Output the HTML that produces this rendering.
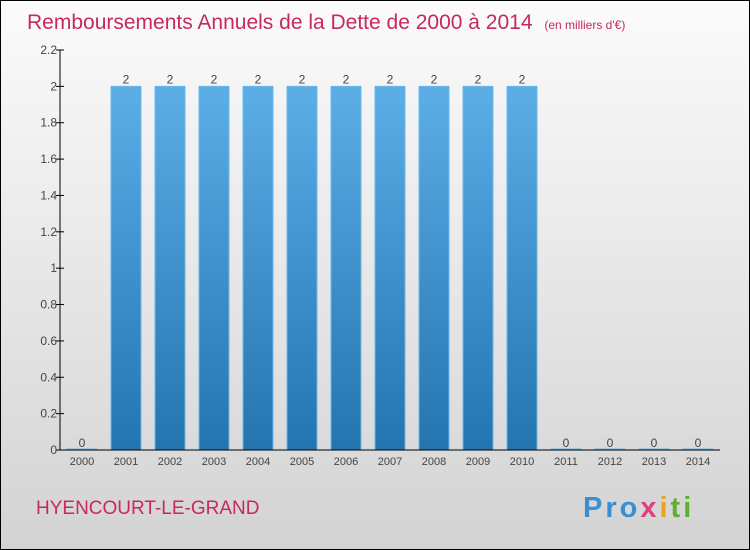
<!DOCTYPE html>
<html><head><meta charset="utf-8"><style>
body{margin:0}
#c{width:750px;height:550px;box-sizing:border-box;border:1px solid #000;background:linear-gradient(#fbfbfb,#d3d3d3);position:relative;overflow:hidden;font-family:"Liberation Sans",sans-serif}
</style></head><body>
<div id="c">
<svg width="750" height="550" style="position:absolute;left:-1px;top:-1px">
<defs><linearGradient id="bg" x1="0" y1="0" x2="0" y2="1"><stop offset="0" stop-color="#5caee7"/><stop offset="1" stop-color="#2474b0"/></linearGradient></defs>
<text x="27" y="29" font-size="21" fill="#c8285e">Remboursements Annuels de la Dette de 2000 à 2014 <tspan font-size="12" dx="6">(en milliers d'€)</tspan></text>
<g id="plot"></g>
<text x="36" y="514" font-size="19" fill="#c8285e">HYENCOURT-LE-GRAND</text>
<text x="583" y="517" font-size="29" font-weight="bold" letter-spacing="3" fill="#3a8fd0">Pro<tspan fill="#e04080">x</tspan><tspan fill="#f0a020">i</tspan><tspan fill="#60b030">ti</tspan></text>
</svg>
</div>
<script>
const categories=["2000","2001","2002","2003","2004","2005","2006","2007","2008","2009","2010","2011","2012","2013","2014"];
const values=[0,2,2,2,2,2,2,2,2,2,2,0,0,0,0];
const yTicks=[0,0.2,0.4,0.6,0.8,1,1.2,1.4,1.6,1.8,2,2.2];
const yTickLabels=["0","0.2","0.4","0.6","0.8","1","1.2","1.4","1.6","1.8","2","2.2"];
const NS="http://www.w3.org/2000/svg";
const g=document.getElementById('plot');
const x0=60,x1=720,yTop=50,yBot=450,yMax=2.2;
const step=(x1-x0)/categories.length;
const xc=i=>x0+step*(i+0.5);
const y=v=>yBot-(v/yMax)*(yBot-yTop);
function mk(t,a){const e=document.createElementNS(NS,t);for(const k in a)e.setAttribute(k,a[k]);g.appendChild(e);return e;}
values.forEach((v,i)=>{
 const h=Math.max(yBot-y(v),1);
 const r=mk('rect',{x:xc(i)-15,y:yBot-h,width:30,height:h,fill:'url(#bg)',stroke:'#6ab8ee','stroke-width':1});
 
 
 const t=mk('text',{x:xc(i),y:y(v)-3,'text-anchor':'middle','font-size':12,fill:'#444'});t.textContent=String(v);
 
 
 const xl=mk('text',{x:xc(i),y:yBot+15,'text-anchor':'middle','font-size':11,fill:'#444'});xl.textContent=categories[i];
 
 
});
yTicks.forEach((v,i)=>{
 mk('line',{x1:x0-4,x2:x0+4,y1:y(v),y2:y(v),stroke:'#000'});
 const t=mk('text',{x:x0-3,y:y(v)+4,'text-anchor':'end','font-size':12,fill:'#444'});t.textContent=yTickLabels[i];
 
 
});
const ya=mk('line',{x1:x0,x2:x0,y1:yTop,y2:yBot,stroke:'#000'});


const xa=mk('line',{x1:x0,x2:x1,y1:yBot,y2:yBot,stroke:'#000'});


</script>
</body></html>
